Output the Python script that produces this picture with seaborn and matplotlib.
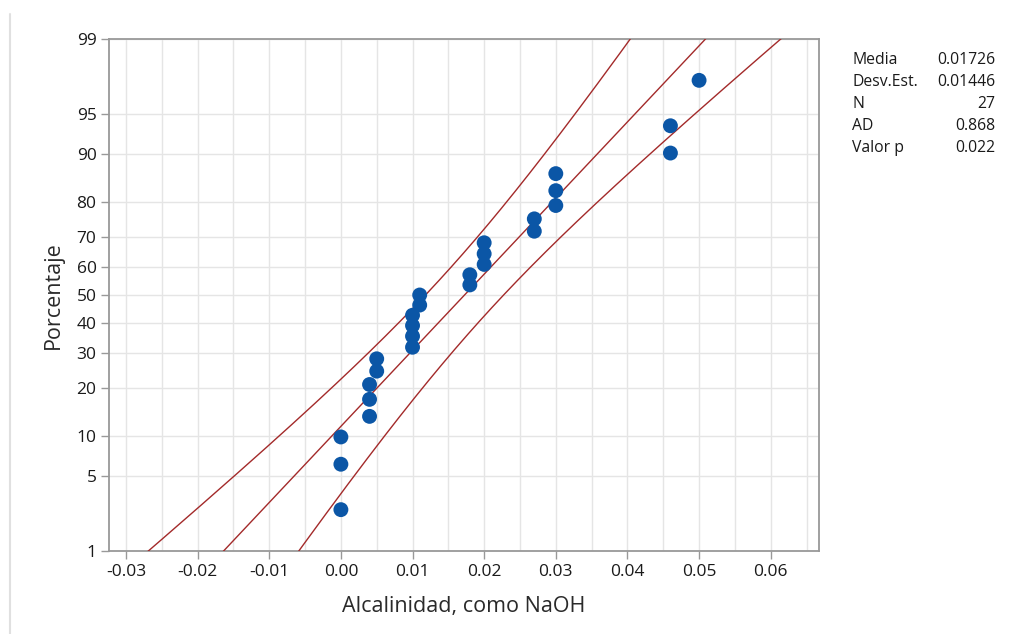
import numpy as np
import pandas as pd
import matplotlib
matplotlib.use("Agg")
import matplotlib.pyplot as plt
import seaborn as sns
from statistics import NormalDist
from matplotlib.lines import Line2D

# ---- data ----
alcalinidad = [0.000, 0.000, 0.000, 0.004, 0.004, 0.004, 0.005, 0.005,
               0.010, 0.010, 0.010, 0.010, 0.011, 0.011, 0.018, 0.018,
               0.020, 0.020, 0.020, 0.027, 0.027, 0.030, 0.030, 0.030,
               0.046, 0.046, 0.050]
y_tick_pct = [1, 5, 10, 20, 30, 40, 50, 60, 70, 80, 90, 95, 99]
x_ticks = [-0.03, -0.02, -0.01, 0.00, 0.01, 0.02, 0.03, 0.04, 0.05, 0.06]
x_tick_labels = ["-0.03", "-0.02", "-0.01", "0.00", "0.01", "0.02", "0.03",
                 "0.04", "0.05", "0.06"]
stat_names = ["Media", "Desv.Est.", "N", "AD", "Valor p"]
stat_values = ["0.01726", "0.01446", "27", "0.868", "0.022"]
x_label = "Alcalinidad, como NaOH"
y_label = "Porcentaje"

sns.set_theme(style="white")
plt.rcParams["font.family"] = ["Open Sans", "DejaVu Sans"]

nd = NormalDist()
x = np.sort(np.array(alcalinidad))
n = len(x)
ranks = np.arange(1, n + 1)
pp = (ranks - 0.3) / (n + 0.4)
z_pts = np.array([nd.inv_cdf(p) for p in pp])
pts = pd.DataFrame({"x": x, "z": z_pts})

mu = x.mean()
s = x.std(ddof=1)
zz = np.linspace(-2.6, 2.6, 300)
half = 1.959964 * s * np.sqrt(1.0 / n + zz ** 2 / (2.0 * n))
fit = pd.DataFrame({"z": zz, "fit": mu + zz * s, "lo": mu + zz * s - half,
                    "hi": mu + zz * s + half})

fig = plt.figure(figsize=(10.16, 6.34), dpi=100)
ax = fig.add_axes([109 / 1016, 1 - 551 / 634, 710 / 1016, 512 / 634])

line_col = "#a32a2a"
for col in ["hi", "fit", "lo"]:
    sns.lineplot(data=fit, x=col, y="z", sort=False, estimator=None, ax=ax,
                 color=line_col, lw=1.0, zorder=3)
sns.scatterplot(data=pts, x="x", y="z", ax=ax, color="#0b56a6", s=115,
                edgecolor="none", zorder=4)

zlo, zhi = nd.inv_cdf(0.01), nd.inv_cdf(0.99)
ax.set_ylim(zlo, zhi)
ax.set_xlim(-0.03237, 0.06674)
ax.set_yticks([nd.inv_cdf(p / 100) for p in y_tick_pct])
ax.set_yticklabels([str(p) for p in y_tick_pct])
ax.set_xticks(x_ticks)
ax.set_xticklabels(x_tick_labels)
ax.set_xticks(np.arange(-0.030, 0.0651, 0.005), minor=True)
ax.grid(True, which="both", axis="x", color="#e5e5e5", lw=1.0, zorder=0)
ax.grid(True, which="major", axis="y", color="#e5e5e5", lw=1.0, zorder=0)
ax.set_axisbelow(True)
ax.tick_params(axis="both", which="major", length=6, width=1, color="#999999",
               labelsize=12.5, labelcolor="#1a1a1a", pad=3)
ax.tick_params(axis="x", which="minor", length=0)
ax.tick_params(bottom=True, left=True)
for sp in ax.spines.values():
    sp.set_color("#999999")
    sp.set_linewidth(1.3)

ax.set_xlabel(x_label, fontsize=15.5, color="#2a2a2a", labelpad=12)
ax.set_ylabel(y_label, fontsize=15.5, color="#2a2a2a", labelpad=9)

# statistics table
for i, (nm, vl) in enumerate(zip(stat_names, stat_values)):
    yy = 1 - (60 + 22 * i) / 634
    fig.text(852 / 1016, yy, nm, fontsize=11.3, color="#1a1a1a",
             ha="left", va="center")
    fig.text(995 / 1016, yy, vl, fontsize=11.3, color="#1a1a1a",
             ha="right", va="center")

# light frame line at the left of the graph window
fig.add_artist(Line2D([10 / 1016, 10 / 1016], [0, 1 - 14 / 634],
                      color="#e0e0e0", lw=1.5))

fig.savefig("out.png", dpi=100, facecolor="white")
